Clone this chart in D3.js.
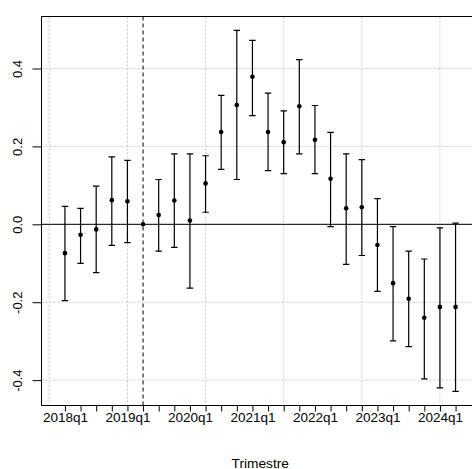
<!DOCTYPE html>
<html>
<head>
<meta charset="utf-8">
<script src="https://cdn.jsdelivr.net/npm/d3@7"></script>
<style>
  html, body { margin: 0; padding: 0; background: #fff; }
  svg { display: block; font-family: "Liberation Sans", Arial, Helvetica, sans-serif; }
</style>
</head>
<body>
<svg id="chart" width="472" height="469"></svg>
<script>
// Quarters (event-study periods), point estimates and confidence bounds
const periods = [
  "2018q1","2018q2","2018q3","2018q4",
  "2019q1","2019q2","2019q3","2019q4",
  "2020q1","2020q2","2020q3","2020q4",
  "2021q1","2021q2","2021q3","2021q4",
  "2022q1","2022q2","2022q3","2022q4",
  "2023q1","2023q2","2023q3","2023q4",
  "2024q1","2024q2"
];
const estimates = [
  -0.074, -0.027, -0.013, 0.062,
   0.059,  0.000,  0.024, 0.061,
   0.010,  0.105,  0.237, 0.306,
   0.379,  0.237,  0.211, 0.303,
   0.217,  0.117,  0.041, 0.044,
  -0.053, -0.151, -0.191, -0.240,
  -0.212, -0.212
];
const lower = [
  -0.196, -0.100, -0.124, -0.054,
  -0.047,  null,  -0.069, -0.059,
  -0.164,  0.031,  0.141,  0.115,
   0.279,  0.138,  0.130,  0.181,
   0.130, -0.006, -0.103, -0.080,
  -0.172, -0.299, -0.314, -0.397,
  -0.420, -0.429
];
const upper = [
   0.046,  0.041,  0.098,  0.173,
   0.164,  null,   0.115,  0.181,
   0.181,  0.176,  0.331,  0.498,
   0.472,  0.337,  0.291,  0.423,
   0.305,  0.236,  0.181,  0.166,
   0.066, -0.006, -0.069, -0.089,
  -0.009,  0.003
];
const referencePeriod = "2019q2";
const xTickLabels = ["2018q1","2019q1","2020q1","2021q1","2022q1","2023q1","2024q1"];
const yTicks = [-0.4, -0.2, 0.0, 0.2, 0.4];
const xGrid = [0, 5, 10, 15, 20, 25];
const xTitle = "Trimestre";

const rows = periods.map((p, i) => ({
  period: p, idx: i + 1, est: estimates[i], lo: lower[i], hi: upper[i]
}));

const svg = d3.select("#chart");
const pLeft = 41.5, pRight = 479, pTop = 16.5, pBottom = 405.5;

const x = d3.scaleLinear().domain([-0.5, 27.5]).range([pLeft, pRight]);
const y = d3.scaleLinear().domain([-0.4651, 0.5335]).range([pBottom, pTop]);
const idxOf = p => periods.indexOf(p) + 1;

svg.append("defs").append("clipPath").attr("id", "plotclip")
  .append("rect").attr("x", pLeft).attr("y", pTop)
  .attr("width", pRight - pLeft).attr("height", pBottom - pTop);

const plot = svg.append("g").attr("clip-path", "url(#plotclip)");

// grid
plot.selectAll("line.gx").data(xGrid).join("line")
  .attr("x1", d => x(d)).attr("x2", d => x(d))
  .attr("y1", pTop).attr("y2", pBottom)
  .attr("stroke", "#c8c8c8").attr("stroke-width", 1).attr("stroke-dasharray", "2,2");
plot.selectAll("line.gy").data(yTicks).join("line")
  .attr("x1", pLeft).attr("x2", pRight)
  .attr("y1", d => y(d)).attr("y2", d => y(d))
  .attr("stroke", "#c8c8c8").attr("stroke-width", 1).attr("stroke-dasharray", "2,2");

// zero line and reference period marker
plot.append("line")
  .attr("x1", pLeft).attr("x2", pRight)
  .attr("y1", y(0)).attr("y2", y(0))
  .attr("stroke", "#000").attr("stroke-width", 1);
plot.append("line")
  .attr("x1", x(idxOf(referencePeriod))).attr("x2", x(idxOf(referencePeriod)))
  .attr("y1", pTop).attr("y2", pBottom)
  .attr("stroke", "#000").attr("stroke-width", 1).attr("stroke-dasharray", "4,3");

// confidence intervals
const ci = rows.filter(d => d.lo !== null && d.hi !== null);
const cap = 3.2;
const bars = plot.selectAll("g.ci").data(ci).join("g").attr("class", "ci")
  .attr("stroke", "#000").attr("stroke-width", 1.2);
bars.append("line")
  .attr("x1", d => x(d.idx)).attr("x2", d => x(d.idx))
  .attr("y1", d => y(d.lo)).attr("y2", d => y(d.hi));
bars.append("line")
  .attr("x1", d => x(d.idx) - cap).attr("x2", d => x(d.idx) + cap)
  .attr("y1", d => y(d.hi)).attr("y2", d => y(d.hi));
bars.append("line")
  .attr("x1", d => x(d.idx) - cap).attr("x2", d => x(d.idx) + cap)
  .attr("y1", d => y(d.lo)).attr("y2", d => y(d.lo));

// point estimates
plot.selectAll("circle.pt").data(rows).join("circle")
  .attr("cx", d => x(d.idx)).attr("cy", d => y(d.est))
  .attr("r", 2.3).attr("fill", "#000");

// box
svg.append("rect")
  .attr("x", pLeft).attr("y", pTop)
  .attr("width", pRight - pLeft).attr("height", pBottom - pTop)
  .attr("fill", "none").attr("stroke", "#000").attr("stroke-width", 1);

// y axis
const yAxis = svg.append("g").attr("transform", `translate(${pLeft},0)`)
  .call(d3.axisLeft(y).tickValues(yTicks).tickSize(9).tickFormat(v => v.toFixed(1)));
yAxis.select(".domain").remove();
yAxis.selectAll(".tick line").attr("stroke", "#000");
yAxis.selectAll(".tick text")
  .attr("x", null).attr("dy", null)
  .attr("transform", "translate(-20,0) rotate(-90)")
  .attr("text-anchor", "middle")
  .attr("font-size", 13).attr("fill", "#000");

// x axis
const xAxis = svg.append("g").attr("transform", `translate(0,${pBottom})`)
  .call(d3.axisBottom(x).tickValues(rows.map(d => d.idx)).tickSize(6)
    .tickFormat(i => xTickLabels.includes(periods[i - 1]) ? periods[i - 1] : ""));
xAxis.select(".domain").remove();
xAxis.selectAll(".tick line").attr("stroke", "#000");
xAxis.selectAll(".tick text")
  .attr("y", 16).attr("dy", null)
  .attr("font-size", 13.5).attr("fill", "#000");

svg.append("text")
  .attr("x", (pLeft + pRight) / 2).attr("y", 467.5)
  .attr("text-anchor", "middle").attr("font-size", 13.7).attr("fill", "#000")
  .text(xTitle);
</script>
</body>
</html>
